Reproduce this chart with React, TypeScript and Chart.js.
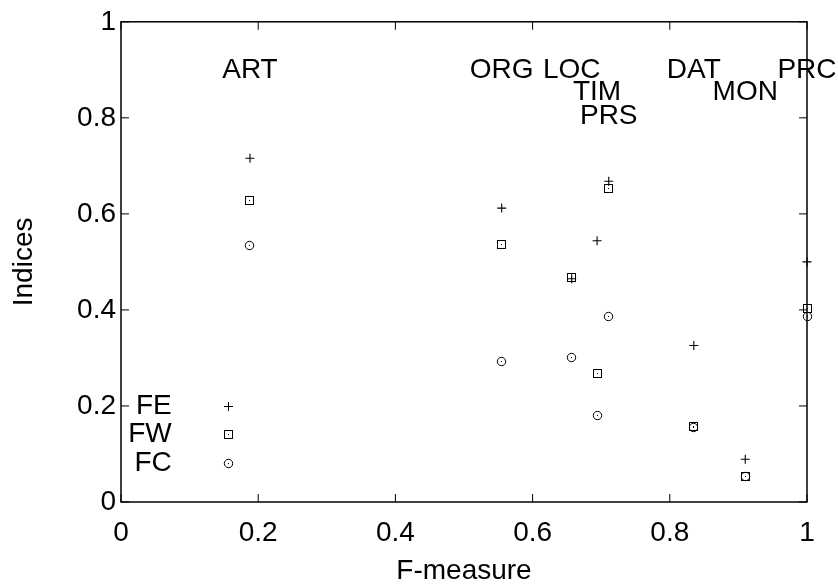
import React, { useEffect, useRef } from 'react';
import { Chart, registerables } from 'chart.js';

Chart.register(...registerables);

// ---- data ----
const categories = ['ART', 'ORG', 'LOC', 'TIM', 'PRS', 'DAT', 'MON', 'PRC'];
const fMeasure = [0.188, 0.555, 0.657, 0.694, 0.711, 0.835, 0.91, 1.0];
const feValues = [0.716, 0.612, 0.465, 0.544, 0.668, 0.326, 0.089, 0.5];
const fwValues = [0.627, 0.537, 0.467, 0.268, 0.653, 0.158, 0.054, 0.402];
const fcValues = [0.535, 0.292, 0.301, 0.181, 0.386, 0.156, 0.054, 0.386];
const labelHeights = [0.9, 0.9, 0.9, 0.854, 0.803, 0.9, 0.854, 0.9];
const seriesNames = ['FE', 'FW', 'FC'];
const keyRows = [0.2, 0.14, 0.08];
const keyTextX = 0.074;
const keySampleX = 0.156;
const tickValues = [0, 0.2, 0.4, 0.6, 0.8, 1];

const FONT = '"Liberation Sans", Arial, Helvetica, sans-serif';
const FONT_SIZE = 28;

function makeMarker(kind: 'square' | 'circle'): HTMLCanvasElement {
  const c = document.createElement('canvas');
  c.width = 13;
  c.height = 13;
  const g = c.getContext('2d')!;
  g.strokeStyle = '#000';
  g.fillStyle = '#000';
  g.lineWidth = 1;
  if (kind === 'square') {
    g.strokeRect(2.5, 2.5, 8, 8);
  } else {
    g.beginPath();
    g.arc(6.5, 6.5, 4.2, 0, Math.PI * 2);
    g.stroke();
  }
  g.fillRect(6, 6, 1, 1);
  return c;
}

function drawPlus(ctx: CanvasRenderingContext2D, x: number, y: number) {
  const cx = Math.round(x) + 0.5;
  const cy = Math.round(y) + 0.5;
  ctx.beginPath();
  ctx.moveTo(cx - 4.5, cy);
  ctx.lineTo(cx + 4.5, cy);
  ctx.moveTo(cx, cy - 4.5);
  ctx.lineTo(cx, cy + 4.5);
  ctx.stroke();
}

export default function App() {
  const ref = useRef<HTMLCanvasElement | null>(null);

  useEffect(() => {
    if (!ref.current) return;
    const squareImg = makeMarker('square');
    const circleImg = makeMarker('circle');

    const framePlugin = {
      id: 'gnuFrame',
      beforeDatasetsDraw(chart: any) {
        const { ctx, chartArea: a, scales } = chart;
        const xs = scales.x;
        const ys = scales.y;
        ctx.save();
        ctx.strokeStyle = '#000';
        ctx.lineWidth = 1.5;
        ctx.strokeRect(a.left, a.top, a.right - a.left, a.bottom - a.top);
        ctx.lineWidth = 1;
        const tl = 8;
        tickValues.forEach((v) => {
          const px = xs.getPixelForValue(v);
          const py = ys.getPixelForValue(v);
          ctx.beginPath();
          ctx.moveTo(px, a.bottom);
          ctx.lineTo(px, a.bottom - tl);
          ctx.moveTo(px, a.top);
          ctx.lineTo(px, a.top + tl);
          ctx.moveTo(a.left, py);
          ctx.lineTo(a.left + tl, py);
          ctx.moveTo(a.right, py);
          ctx.lineTo(a.right - tl, py);
          ctx.stroke();
        });
        ctx.restore();
        ctx.imageSmoothingEnabled = false;
      },
      afterDraw(chart: any) {
        const { ctx, scales } = chart;
        const xs = scales.x;
        const ys = scales.y;
        ctx.save();
        ctx.strokeStyle = '#000';
        ctx.lineWidth = 1;
        // category labels
        ctx.fillStyle = '#000';
        ctx.font = `${FONT_SIZE}px ${FONT}`;
        ctx.textAlign = 'center';
        ctx.textBaseline = 'middle';
        categories.forEach((name, i) => {
          ctx.fillText(name, xs.getPixelForValue(fMeasure[i]), ys.getPixelForValue(labelHeights[i]));
        });

        // key
        ctx.textAlign = 'right';
        ctx.imageSmoothingEnabled = false;
        seriesNames.forEach((name, i) => {
          const py = ys.getPixelForValue(keyRows[i]);
          ctx.fillText(name, xs.getPixelForValue(keyTextX), py);
          const sx = xs.getPixelForValue(keySampleX);
          if (i === 0) drawPlus(ctx, sx, py);
          else {
            const img = i === 1 ? squareImg : circleImg;
            ctx.drawImage(img, Math.round(sx - img.width / 2), Math.round(py - img.height / 2));
          }
        });
        ctx.restore();
      },
    };

    const toPts = (vals: number[]) => vals.map((v, i) => ({ x: fMeasure[i], y: v }));

    const chart = new Chart(ref.current, {
      type: 'scatter',
      data: {
        datasets: [
          {
            label: seriesNames[0],
            data: toPts(feValues),
            pointStyle: 'cross',
            pointRadius: 4.5,
            borderColor: '#000',
            borderWidth: 1.1,
            clip: false,
          },
          {
            label: seriesNames[1],
            data: toPts(fwValues),
            pointStyle: squareImg as any,
            pointRadius: 5,
            borderColor: '#000',
            clip: false,
          },
          {
            label: seriesNames[2],
            data: toPts(fcValues),
            pointStyle: circleImg as any,
            pointRadius: 5,
            borderColor: '#000',
            clip: false,
          },
        ],
      },
      options: {
        responsive: false,
        animation: false,
        events: [],
        layout: { padding: { top: 20, right: 31, left: 0, bottom: 0 } },
        plugins: { legend: { display: false }, tooltip: { enabled: false } },
        scales: {
          x: {
            type: 'linear',
            min: 0,
            max: 1,
            grid: { display: false, drawTicks: false },
            border: { display: false },
            afterBuildTicks: (s: any) => {
              s.ticks = tickValues.map((v) => ({ value: v }));
            },
            afterFit: (s: any) => {
              s.height = 86;
            },
            ticks: {
              color: '#000',
              padding: 14,
              maxRotation: 0,
              font: { family: FONT, size: FONT_SIZE },
              callback: (v: any) => String(Number(Number(v).toFixed(1))),
            },
            title: {
              display: true,
              text: 'F-measure',
              color: '#000',
              padding: { top: 0, bottom: 0 },
              font: { family: FONT, size: FONT_SIZE },
            },
          },
          y: {
            type: 'linear',
            min: 0,
            max: 1,
            grid: { display: false, drawTicks: false },
            border: { display: false },
            afterBuildTicks: (s: any) => {
              s.ticks = tickValues.map((v) => ({ value: v }));
            },
            afterFit: (s: any) => {
              s.width = 121;
            },
            ticks: {
              color: '#000',
              padding: 5,
              font: { family: FONT, size: FONT_SIZE },
              callback: (v: any) => String(Number(Number(v).toFixed(1))),
            },
            title: {
              display: true,
              text: 'Indices',
              color: '#000',
              padding: { top: 7, bottom: 4 },
              font: { family: FONT, size: FONT_SIZE },
            },
          },
        },
      },
      plugins: [framePlugin],
    });
    return () => chart.destroy();
  }, []);

  return (
    <div style={{ position: 'absolute', left: 0, top: 0, width: 838, height: 588, background: '#fff' }}>
      <canvas ref={ref} width={838} height={588} style={{ display: 'block' }} />
    </div>
  );
}
